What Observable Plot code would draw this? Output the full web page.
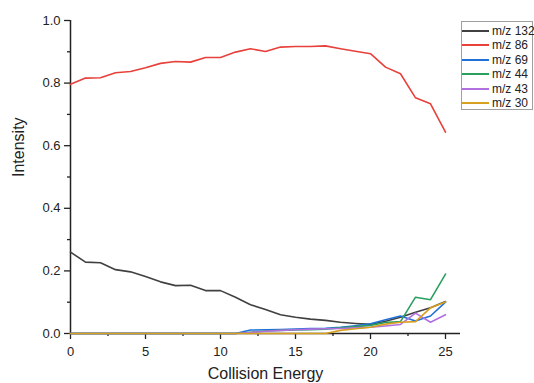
<!DOCTYPE html>
<html>
<head>
<meta charset="utf-8">
<script src="https://cdn.jsdelivr.net/npm/d3@7"></script>
<script src="https://cdn.jsdelivr.net/npm/@observablehq/plot@0.6"></script>
<style>
  body { margin: 0; background: #fff; font-family: Arial, "Liberation Sans", sans-serif; }
  #wrap { position: relative; width: 534px; height: 383px; }
  #legend { position: absolute; left: 461px; top: 21px; width: 70px; height: 87px; border: 1px solid #a0a0a0; background: #fff; }
  .item { position: absolute; left: 0; height: 14px; display: flex; align-items: center; font-size: 12px; color: #222; white-space: nowrap; }
  .item .sw { display: inline-block; width: 27px; height: 2px; margin-right: 3px; }
</style>
</head>
<body>
<div id="wrap"></div>
<script>
const energy = d3.range(0, 26);
const seriesNames = ["m/z 132", "m/z 86", "m/z 69", "m/z 44", "m/z 43", "m/z 30"];
const seriesColors = ["#404040", "#e8403a", "#2070d8", "#2aa060", "#b070e0", "#d8a020"];
const mz132 = [0.26,0.228,0.226,0.204,0.197,0.182,0.165,0.153,0.154,0.137,0.137,0.116,0.092,0.077,0.06,0.052,0.046,0.042,0.036,0.032,0.029,0.039,0.052,0.068,0.082,0.102];
const mz86 = [0.796,0.816,0.817,0.833,0.837,0.849,0.863,0.869,0.867,0.882,0.882,0.899,0.91,0.901,0.915,0.917,0.917,0.919,0.91,0.902,0.894,0.851,0.83,0.753,0.734,0.643];
const mz69 = [0,0,0,0,0,0,0,0,0,0,0,0,0.011,0.012,0.013,0.014,0.016,0.017,0.02,0.025,0.031,0.044,0.056,0.04,0.056,0.1];
const mz44 = [0,0,0,0,0,0,0,0,0,0,0,0,0.004,0.008,0.01,0.011,0.012,0.014,0.018,0.022,0.026,0.035,0.038,0.116,0.108,0.19];
const mz43 = [0,0,0,0,0,0,0,0,0,0,0,0,0.003,0.007,0.01,0.012,0.014,0.015,0.016,0.018,0.02,0.024,0.029,0.065,0.036,0.06];
const mz30 = [0,0,0,0,0,0,0,0,0,0,0,0,0,0,0,0,0,0,0.01,0.015,0.02,0.03,0.036,0.038,0.082,0.101];
const xMajor = [0, 5, 10, 15, 20, 25];
const xMinor = [2.5, 7.5, 12.5, 17.5, 22.5];
const yMajor = [0, 0.2, 0.4, 0.6, 0.8, 1.0];
const yMinor = [0.1, 0.3, 0.5, 0.7, 0.9];

const allSeries = [mz132, mz86, mz69, mz44, mz43, mz30];
const rows = [];
allSeries.forEach((vals, i) => vals.forEach((v, j) => rows.push({energy: energy[j], value: v, series: seriesNames[i]})));

const chart = Plot.plot({
  width: 534,
  height: 383,
  marginLeft: 70,
  marginRight: 74,
  marginTop: 20,
  marginBottom: 50,
  style: {fontFamily: "Arial, 'Liberation Sans', sans-serif", fontSize: "13px", color: "#222", background: "#fff"},
  x: {domain: [0, 26]},
  y: {domain: [0, 1]},
  color: {domain: seriesNames, range: seriesColors},
  marks: [
    Plot.axisX({ticks: xMajor, tickSize: 6, tickPadding: 7, tickFormat: d3.format("d"), label: null, fontSize: 13, stroke: "#222", strokeWidth: 1.3}),
    Plot.axisX({ticks: xMinor, tickSize: 3, tickFormat: () => "", label: null, stroke: "#222", strokeWidth: 1.3}),
    Plot.axisY({ticks: yMajor, tickSize: 6, tickPadding: 4, tickFormat: d3.format(".1f"), label: null, fontSize: 13, stroke: "#222", strokeWidth: 1.3}),
    Plot.axisY({ticks: yMinor, tickSize: 3, tickFormat: () => "", label: null, stroke: "#222", strokeWidth: 1.3}),
    Plot.ruleY([0], {stroke: "#222", strokeWidth: 1.5}),
    Plot.ruleX([0], {stroke: "#222", strokeWidth: 1.5}),
    Plot.lineY(rows, {x: "energy", y: "value", z: "series", stroke: "series", strokeWidth: 1.6}),
    Plot.text(["Collision Energy"], {frameAnchor: "bottom", dy: 45, lineAnchor: "bottom", fontSize: 16, fill: "#222"}),
    Plot.text(["Intensity"], {frameAnchor: "left", dx: -52, rotate: -90, lineAnchor: "middle", fontSize: 16, fill: "#222"})
  ]
});
const wrap = document.getElementById("wrap");
wrap.appendChild(chart);

const legend = document.createElement("div");
legend.id = "legend";
seriesNames.forEach((name, i) => {
  const item = document.createElement("div");
  item.className = "item";
  item.style.top = (2 + i * 14.4) + "px";
  const sw = document.createElement("span");
  sw.className = "sw";
  sw.style.backgroundColor = seriesColors[i];
  const t = document.createElement("span");
  t.textContent = name;
  item.appendChild(sw);
  item.appendChild(t);
  legend.appendChild(item);
});
wrap.appendChild(legend);
</script>
</body>
</html>
